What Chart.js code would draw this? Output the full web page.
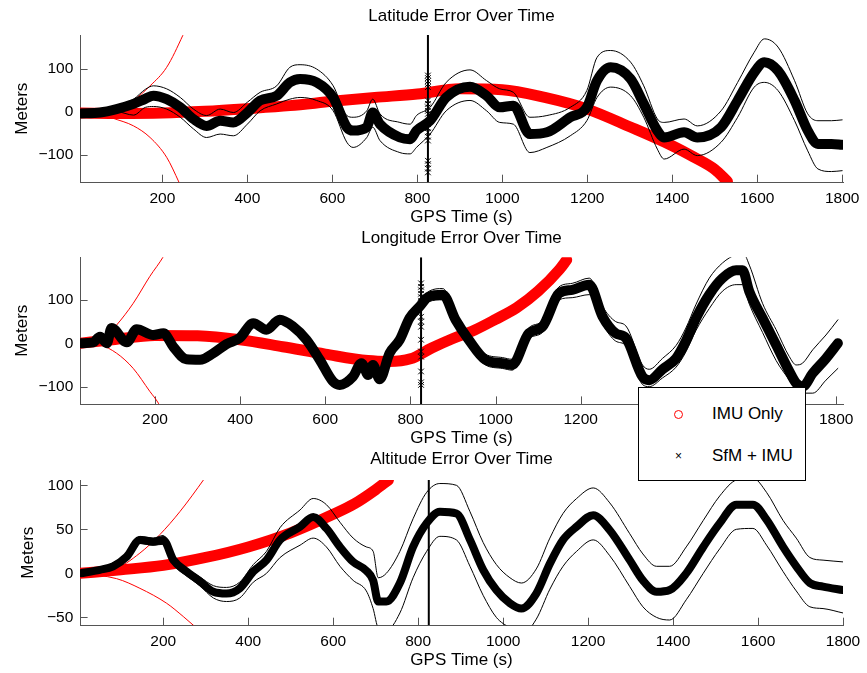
<!DOCTYPE html>
<html>
<head>
<meta charset="utf-8">
<title>Error Over Time</title>
<script src="https://cdn.jsdelivr.net/npm/chart.js@4.4.1/dist/chart.umd.min.js"></script>
<style>
  html, body { margin: 0; padding: 0; background: #fff; }
  #wrap { position: relative; width: 867px; height: 673px; font-family: "Liberation Sans", Arial, sans-serif; }
  #wrap canvas { position: absolute; left: 0; }
  #legend { position: absolute; left: 638px; top: 387px; width: 166px; height: 92px;
            border: 1px solid #000; background: #fff; font-size: 17px; color: #000; }
  #legend span { position: absolute; }
  .mk-o { width: 7px; height: 7px; border: 1px solid #f00; border-radius: 50%; left: 35px; top: 22px; }
  .mk-x { font-size: 12px; line-height: 14px; left: 36px; top: 61px; }
  .lb { left: 73px; line-height: 20px; white-space: nowrap; }
</style>
</head>
<body>
<div id="wrap">
  <canvas id="lat" width="867" height="228" style="top:0"></canvas>
  <canvas id="lon" width="867" height="221" style="top:228px"></canvas>
  <canvas id="alt" width="867" height="224" style="top:449px"></canvas>
  <div id="legend">
    <span class="mk-o"></span><span class="lb" style="top:16px">IMU Only</span>
    <span class="mk-x">&times;</span><span class="lb" style="top:58px">SfM + IMU</span>
  </div>
</div>
<script>
// ---- data ----
const xTicks = [200, 400, 600, 800, 1000, 1200, 1400, 1600, 1800]
const breakT = 825 // the vertical line

// latitude
const latTicks = [-100, 0, 100]
const latT = [6,53,92,132,160,179,210,242,273,304,336,367,400,430,469,500,524,563,602,634,649,681,695,712,759,783,798,830,868,924,963,994,1026,1065,1105,1160,1199,1223,1255,1302,1333,1365,1381,1428,1459,1515,1554,1593,1617,1649,1688,1719,1743,1775,1800]
const latSfm = [-4,-2,6,18,30,37,29,10,-17,-33,-21,-25,-2,26,37,68,76,68,33,-36,-44,-36,-2,-29,-60,-64,-44,-21,33,58,37,10,14,-52,-48,-13,10,72,103,76,18,-44,-60,-48,-60,-36,26,91,115,95,26,-44,-75,-75,-77]
const latHi = [-2,0,12,29,52,60,53,33,6,-9,6,-2,22,45,60,103,109,99,60,-9,-13,2,29,-5,-25,-29,-9,10,68,97,72,53,45,-13,-9,10,49,126,142,115,60,-17,-25,-17,-33,2,68,138,169,150,72,-5,-21,-21,-19]
const latLo = [-6,-4,0,-8,10,12,6,-13,-40,-60,-52,-56,-29,2,18,29,33,26,2,-71,-83,-60,-36,-67,-95,-98,-83,-52,2,26,2,-25,-29,-95,-83,-56,-21,33,57,37,-13,-87,-110,-87,-102,-71,-13,57,68,49,-21,-91,-133,-139,-137]
const latImuT = [6,100,200,300,400,500,600,700,800,900,1000,1100,1200,1300,1400,1450,1500,1530]
const latImu = [-3,-4,-3,1,7,14,24,33,41,53,51,33,6,-35,-79,-105,-134,-162]
const latUpT = [6,50,92,132,171,210,248,256]
const latUp = [0,2,10,27,60,103,177,195]
const latDnT = [6,50,83,132,171,210,239,246]
const latDn = [0,-3,-15,-33,-60,-106,-164,-180]
const latMarks = [84,78,71,64,57,26,18,10,2,-5,-29,-38,-48,-58,-67,-114,-122,-132,-141]

// longitude
const lonTicks = [-100, 0, 100]
const lonT = [24,55,71,87,98,134,157,196,220,243,274,306,337,368,399,431,462,493,525,556,587,618,634,665,685,701,712,728,751,775,798,822,844,876,906,937,976,1016,1039,1078,1110,1149,1180,1220,1251,1282,1306,1345,1361,1392,1424,1447,1471,1502,1533,1565,1580,1596,1627,1659,1690,1706,1721,1745,1776,1804]
const lonSfm = [0,2,15,0,35,2,32,19,23,-8,-37,-38,-23,-2,12,46,31,54,38,8,-38,-88,-96,-77,-46,-73,-50,-83,-23,8,58,85,108,112,54,8,-38,-46,-50,23,38,115,123,135,62,23,12,-77,-85,-60,-35,5,58,112,150,168,168,119,58,-4,-65,-92,-100,-69,-35,0]
const lonHi = [3,6,20,5,40,8,37,24,28,-3,-32,-33,-18,3,17,53,37,60,44,14,-32,-80,-88,-70,-40,-66,-44,-76,-16,15,66,95,120,126,68,20,-25,-33,-37,35,52,130,138,150,85,50,40,-50,-60,-35,-5,35,90,150,185,205,210,180,92,31,-31,-50,-46,-15,19,54]
const lonLo = [-3,-2,10,-5,29,-4,27,14,18,-13,-42,-43,-28,-7,7,40,25,48,32,2,-44,-95,-103,-84,-53,-80,-57,-90,-30,1,50,75,96,100,42,-4,-50,-58,-62,10,25,100,105,112,45,5,-5,-95,-100,-80,-55,-20,30,80,120,135,135,90,25,-40,-85,-108,-115,-115,-85,-58]
const lonImuT = [24,100,200,300,400,500,600,700,750,800,850,900,950,1000,1050,1100,1150,1167]
const lonImu = [0,8,18,17,8,-8,-25,-40,-42,-36,-11,11,30,55,82,120,170,192]
const lonUpT = [24,71,110,149,188,220,228]
const lonUp = [0,3,42,92,154,200,215]
const lonDnT = [24,71,110,149,188,208,215]
const lonDn = [0,-4,-23,-58,-111,-138,-152]
const lonMarks = [138,130,122,114,106,98,92,61,50,38,8,-19,-31,-65,-90,-96]

// altitude
const altTicks = [-50, 0, 50, 100]
const altT = [4,51,82,114,145,176,200,224,255,286,318,349,380,412,443,475,522,553,584,616,647,678,694,706,725,757,788,820,851,890,922,953,984,1016,1043,1078,1110,1141,1173,1212,1251,1298,1329,1361,1392,1431,1471,1510,1549,1588,1620,1659,1690,1722,1753,1800]
const altSfm = [0,4,8,19,38,36,38,15,2,-9,-21,-23,-17,2,15,38,53,64,51,30,13,3,-8,-32,-32,-11,30,57,70,68,38,4,-19,-34,-40,-23,11,38,53,66,49,15,-8,-21,-19,0,30,57,78,78,61,30,8,-11,-15,-19]
const altHi = [2,6,12,23,42,40,43,20,6,-4,-14,-16,-10,10,25,52,72,85,78,58,40,30,25,-5,0,25,62,92,102,100,70,35,10,-5,-11,5,40,68,85,97,80,45,22,8,8,30,60,88,106,108,92,60,40,18,15,13]
const altLo = [-2,2,5,15,34,32,33,10,-3,-14,-28,-32,-28,-10,0,18,32,40,30,8,-8,-20,-40,-62,-65,-45,-5,25,42,38,8,-25,-50,-62,-70,-52,-18,8,25,38,20,-15,-38,-50,-53,-30,0,28,50,51,32,2,-20,-38,-40,-45]
const altImuT = [4,100,200,300,400,500,600,650,700,730]
const altImu = [0,4,9,18,30,46,67,79,95,106]
const altUpT = [4,82,145,192,239,296,306]
const altUp = [0,4,23,44,70,107,114]
const altDnT = [4,90,145,208,247,271,280]
const altDn = [0,-6,-17,-34,-49,-59,-63]
const altMarks = []

// ---- drawing ----
const axisColor = '#555'
const TICK = 7.6

Chart.defaults.font.family = '"Liberation Sans", Arial, sans-serif'
Chart.defaults.color = '#000'

const pts = (ts, vs) => ts.map((t, i) => ({x: t, y: vs[i]}))
const fmt = v => v < 0 ? '\u2212' + Math.abs(v) : String(v)

// MATLAB style ticks pointing into the plot
const inwardTicks = {
    id: 'inwardTicks',
    beforeDatasetsDraw(chart) {
        const {ctx, chartArea: a, scales: {x, y}} = chart
        ctx.save()
        ctx.strokeStyle = axisColor
        ctx.lineWidth = 1
        ctx.beginPath()
        x.ticks.forEach(t => {
            const px = Math.round(x.getPixelForValue(t.value)) + 0.5
            ctx.moveTo(px, a.bottom)
            ctx.lineTo(px, a.bottom - TICK)
        })
        y.ticks.forEach(t => {
            const py = Math.round(y.getPixelForValue(t.value)) + 0.5
            ctx.moveTo(a.left, py)
            ctx.lineTo(a.left + TICK, py)
        })
        ctx.stroke()
        ctx.restore()
    }
}

function line(data, color, width, order) {
    return {
        data, borderColor: color, borderWidth: width, order,
        pointRadius: 0, fill: false, cubicInterpolationMode: 'monotone',
        borderCapStyle: 'round', borderJoinStyle: 'round'
    }
}

function makeChart(id, p) {
    const datasets = [
        {label: 'SfM + IMU', ...line(pts(p.t, p.sfm), '#000', p.bandW, 2)},
        line(pts(p.t, p.hi), '#000', 1, 3),
        line(pts(p.t, p.lo), '#000', 1, 3),
        {label: 'IMU Only', ...line(pts(p.imuT, p.imu), '#f00', 11, 4)},
        line(pts(p.upT, p.up), '#f00', 1, 5),
        line(pts(p.dnT, p.dn), '#f00', 1, 5),
        {data: [{x: breakT, y: p.yMin}, {x: breakT, y: p.yMax}], borderColor: '#000', borderWidth: 2, pointRadius: 0, order: 1},
        {data: p.marks.map(v => ({x: breakT, y: v})), showLine: false, pointStyle: 'crossRot',
         pointRadius: 4, borderColor: '#000', borderWidth: 1, order: 0}
    ]

    new Chart(document.getElementById(id), {
        type: 'line',
        data: {datasets},
        plugins: [inwardTicks],
        options: {
            responsive: false,
            animation: false,
            devicePixelRatio: 1,
            layout: {padding: {left: p.padLeft, right: 24, top: 0, bottom: p.padBottom}},
            plugins: {
                legend: {display: false},
                tooltip: {enabled: false},
                title: {
                    display: true, text: p.title, fullSize: false, color: '#000',
                    font: {size: 17, weight: 'normal'},
                    padding: {top: p.titleTop, bottom: p.titleBottom}
                }
            },
            scales: {
                x: {
                    type: 'linear', min: p.xMin, max: p.xMax,
                    grid: {display: false, drawTicks: false},
                    border: {display: true, color: axisColor},
                    ticks: {font: {size: 15.5}, color: '#000', padding: 6.7, maxRotation: 0, autoSkip: false, callback: fmt},
                    afterBuildTicks: s => { s.ticks = xTicks.map(v => ({value: v})) },
                    afterFit: s => { s.height = p.xAxisH },
                    title: {display: true, text: 'GPS Time (s)', color: '#000', font: {size: 17}, padding: 0}
                },
                y: {
                    type: 'linear', min: p.yMin, max: p.yMax,
                    grid: {display: false, drawTicks: false},
                    border: {display: true, color: axisColor},
                    ticks: {font: {size: 15.5}, color: '#000', padding: 6.7, autoSkip: false, callback: fmt},
                    afterBuildTicks: s => { s.ticks = p.yTicks.map(v => ({value: v})) },
                    afterFit: s => { s.width = 80 - p.padLeft },
                    title: {display: true, text: 'Meters', color: '#000', font: {size: 17}, padding: 0}
                }
            }
        }
    })
}

makeChart('lat', {
    title: 'Latitude Error Over Time',
    t: latT, sfm: latSfm, hi: latHi, lo: latLo, imuT: latImuT, imu: latImu,
    upT: latUpT, up: latUp, dnT: latDnT, dn: latDn, marks: latMarks,
    xMin: 6, xMax: 1802, yMin: -164, yMax: 178, yTicks: latTicks, bandW: 10,
    padLeft: 11.8, padBottom: 0, titleTop: 5.8, titleBottom: 8.8, xAxisH: 45.7
})

makeChart('lon', {
    title: 'Longitude Error Over Time',
    t: lonT, sfm: lonSfm, hi: lonHi, lo: lonLo, imuT: lonImuT, imu: lonImu,
    upT: lonUpT, up: lonUp, dnT: lonDnT, dn: lonDn, marks: lonMarks,
    xMin: 24, xMax: 1816, yMin: -140, yMax: 198, yTicks: lonTicks, bandW: 10,
    padLeft: 11.8, padBottom: 0, titleTop: 0.1, titleBottom: 8.8, xAxisH: 45
})

makeChart('alt', {
    title: 'Altitude Error Over Time',
    t: altT, sfm: altSfm, hi: altHi, lo: altLo, imuT: altImuT, imu: altImu,
    upT: altUpT, up: altUp, dnT: altDnT, dn: altDn, marks: altMarks,
    xMin: 4, xMax: 1800, yMin: -59, yMax: 106, yTicks: altTicks, bandW: 8,
    padLeft: 18.3, padBottom: 2, titleTop: 0.1, titleBottom: 10.5, xAxisH: 45.7
})
</script>
</body>
</html>
